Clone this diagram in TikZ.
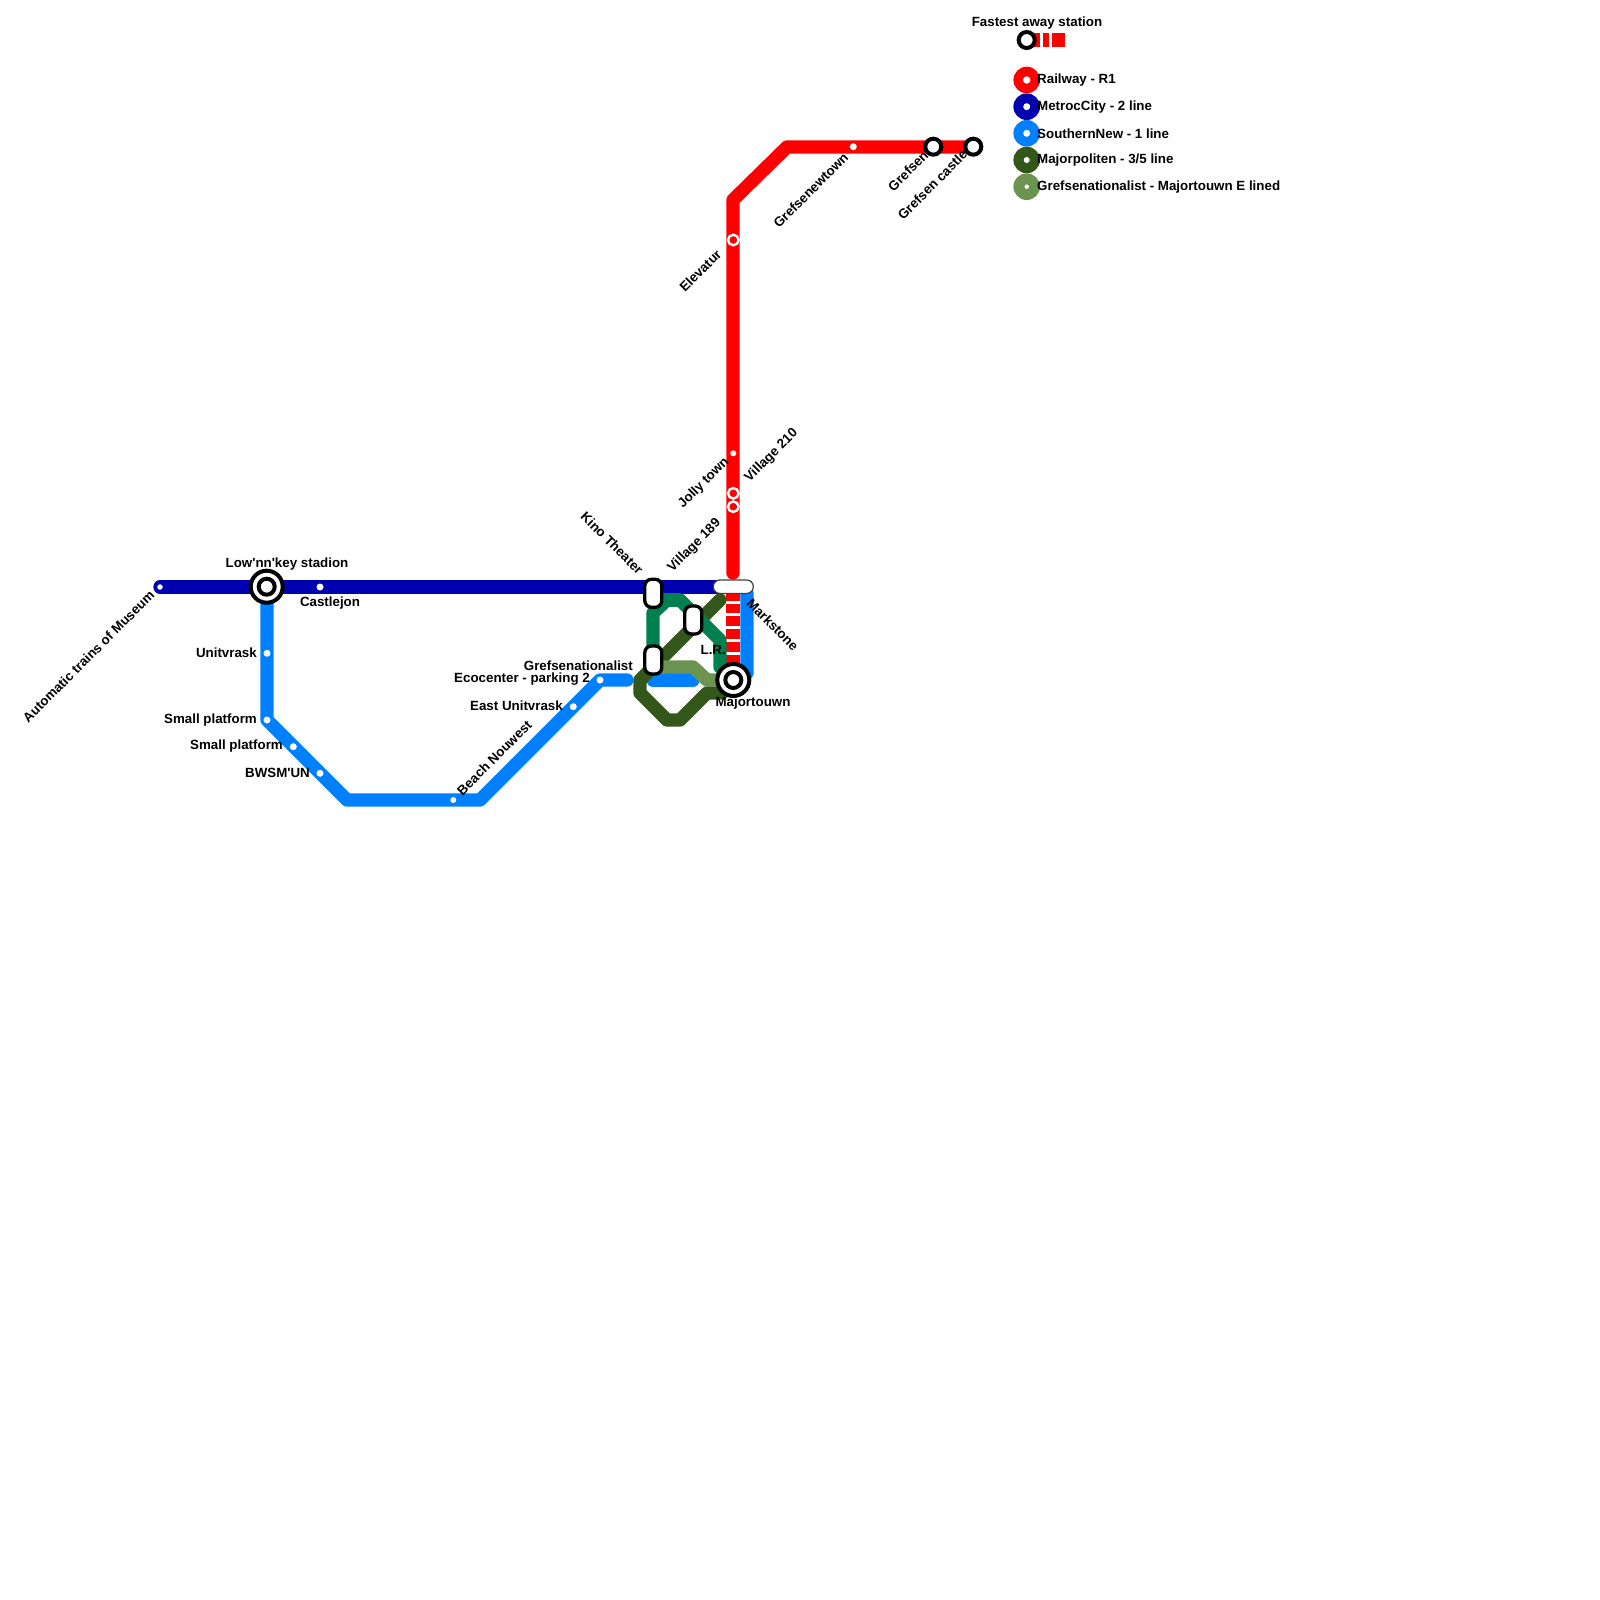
\documentclass[tikz,border=0pt]{standalone}
\usepackage{fontspec}
\newfontfamily\lblfont{Liberation Sans}
\definecolor{cRed}{HTML}{FF0000}
\definecolor{cNavy}{HTML}{0000B0}
\definecolor{cBlue}{HTML}{007FFF}
\definecolor{cDark}{HTML}{33571A}
\definecolor{cTeal}{HTML}{008050}
\definecolor{cLight}{HTML}{6A944F}
\newcommand{\majorlabel}{Majorpoliten - 3/5 line}
\tikzset{
 rail/.style={line width=13.33pt,line cap=round,line join=round},
 lbl/.style={font=\lblfont\bfseries\fontsize{13.33}{15}\selectfont,inner sep=0pt,text=black},
 dot/.style={circle,fill=white,inner sep=0pt,minimum size=7pt},
 ringw/.style={circle,draw=white,line width=2.4pt,fill=cRed,inner sep=0pt,minimum size=10.5pt},
 small/.style={circle,draw=black,line width=4pt,fill=white,inner sep=0pt,minimum size=16pt},
 big/.style={circle,draw=black,line width=4pt,fill=white,inner sep=0pt,minimum size=32pt},
 core/.style={circle,draw=black,line width=4pt,fill=white,inner sep=0pt,minimum size=16pt},
 capv/.style={rounded corners=6.6pt,draw=black,line width=3.3pt,fill=white,inner sep=0pt,minimum width=17pt,minimum height=28pt},
 caph/.style={rounded corners=6.6pt,draw=black!75,line width=1.2pt,fill=white,inner sep=0pt,minimum width=40pt,minimum height=13.5pt},
 leg/.style={circle,inner sep=0pt,minimum size=26.6pt},
 sq/.style={fill=cRed,inner sep=0pt,minimum height=13.33pt},
 tick/.style={draw=white,line width=3pt}
}
\begin{document}
\begin{tikzpicture}[x=1pt,y=-1pt]
\useasboundingbox (0,0) rectangle (1600,1600);
% vertices
\coordinate (n0) at (160,587); \coordinate (n1) at (720,587);
\coordinate (b0) at (267,587); \coordinate (b1) at (267,720); \coordinate (b2) at (347,800);
\coordinate (b3) at (480,800); \coordinate (b4) at (600,680); \coordinate (b5) at (627,680);
\coordinate (b6) at (653,680); \coordinate (b7) at (693,680);
\coordinate (c0) at (747,593); \coordinate (c1) at (747,673); \coordinate (c2) at (740,680); \coordinate (c3) at (733,680);
\coordinate (r0) at (973,147); \coordinate (r1) at (787,147); \coordinate (r2) at (733,200); \coordinate (r3) at (733,573);
\coordinate (r4) at (733,590); \coordinate (r5) at (733,680);
\coordinate (d0) at (720,600); \coordinate (d1) at (640,680); \coordinate (d2) at (640,693); \coordinate (d3) at (667,720);
\coordinate (d4) at (680,720); \coordinate (d5) at (707,693); \coordinate (d6) at (722,693);
\coordinate (t0) at (653,660); \coordinate (t1) at (653,613); \coordinate (t2) at (667,600); \coordinate (t3) at (680,600);
\coordinate (t4) at (720,640); \coordinate (t5) at (720,667); \coordinate (t6) at (733,680); \coordinate (t7) at (653,600);
\coordinate (l0) at (660,667); \coordinate (l1) at (693,667); \coordinate (l2) at (707,680); \coordinate (l3) at (733,680);
% lines
\draw[rail,cNavy] (n0)--(n1);
\draw[rail,cBlue] (b0)--(b1)--(b2)--(b3)--(b4)--(b5);
\draw[rail,cBlue] (b6)--(b7);
\draw[rail,cBlue] (c0)--(c1)--(c2)--(c3);
\draw[rail,cRed] (r0)--(r1)--(r2)--(r3);
\draw[rail,cRed,line cap=butt] (r4)--(r5);
\foreach \y/\k in {602/a,614/b,627/c,640/d,653/e,665/f}{
 \coordinate (tk\k L) at (726.3,\y); \coordinate (tk\k R) at (739.7,\y);
 \draw[tick] (tk\k L)--(tk\k R);
}
\draw[rail,cDark] (d0)--(d1)--(d2)--(d3)--(d4)--(d5)--(d6);
\draw[rail,cTeal] (t0)--(t1)--(t2)--(t3)--(t4)--(t5)--(t6);
\draw[rail,cTeal,line cap=butt] (t7)--(t3);
\draw[rail,cLight] (l0)--(l1)--(l2)--(l3);
% small stations
\node[dot,minimum size=5.5pt] (sAuto) at (160,587) {};
\node[dot] (sCast) at (320,587) {};
\node[dot] (sUnit) at (267,653.3) {};
\node[dot] (sSm1) at (267,720) {};
\node[dot] (sSm2) at (293.3,746.7) {};
\node[dot] (sBw) at (320,773.3) {};
\node[dot,minimum size=6pt] (sBeach) at (453.3,800) {};
\node[dot] (sEast) at (573.3,706.7) {};
\node[dot] (sEco) at (600,680) {};
\node[dot,minimum size=6pt] (sJolly) at (733.3,453.3) {};
\node[ringw] (sElev) at (733.3,240) {};
\node[ringw] (sV1) at (733.3,493.3) {};
\node[ringw] (sV2) at (733.3,506.7) {};
\node[dot] (sGn) at (853.3,146.7) {};
\node[small] (sGr) at (933.3,146.7) {};
\node[small] (sGc) at (973.3,146.7) {};
% interchanges
\node[big] (sLow) at (266.7,586.7) {};
\node[core] (sLowC) at (266.7,586.7) {};
\node[big] (sMaj) at (733.3,680) {};
\node[core] (sMajC) at (733.3,680) {};
\node[capv] (xKino) at (653.3,593.3) {};
\node[capv] (xV) at (693.3,620) {};
\node[capv] (xGref) at (653.3,660) {};
\node[caph] (xMark) at (733.3,586.7) {};
% labels
\node[lbl,anchor=east,rotate=45] (tAuto) at (152,593) {Automatic trains of Museum};
\node[lbl] (tLow) at (287,563.6) {Low'nn'key stadion};
\node[lbl] (tCast) at (330,603) {Castlejon};
\node[lbl,anchor=east] (tUnit) at (257,653) {Unitvrask};
\node[lbl,anchor=east] (tSm1) at (257,720) {Small platform};
\node[lbl,anchor=east] (tSm2) at (283,746.5) {Small platform};
\node[lbl,anchor=east] (tBw) at (310,773) {BWSM'UN};
\node[lbl,anchor=west,rotate=45] (tBeach) at (459,793) {Beach Nouwest};
\node[lbl,anchor=east] (tEast) at (563,706) {East Unitvrask};
\node[lbl,anchor=east] (tEco) at (590,679.5) {Ecocenter - parking 2};
\node[lbl,anchor=east] (tGref) at (633,666) {Grefsenationalist};
\node[lbl,anchor=east,rotate=-45] (tKino) at (641,572) {Kino Theater};
\node[lbl,anchor=west,rotate=45] (tV189) at (670,570) {Village 189};
\node[lbl,anchor=east,rotate=45] (tJolly) at (727,460) {Jolly town};
\node[lbl,anchor=west,rotate=45] (tV210) at (747,480) {Village 210};
\node[lbl,anchor=east,rotate=45] (tElev) at (719,252) {Elevatur};
\node[lbl,anchor=east,rotate=45] (tGn) at (846,155) {Grefsenewtown};
\node[lbl,anchor=east,rotate=45] (tGr) at (926,153) {Grefsen};
\node[lbl,anchor=east,rotate=45] (tGc) at (965,152) {Grefsen castle};
\node[lbl,anchor=west,rotate=-45] (tMark) at (749,601) {Markstone};
\node[lbl,anchor=east] (tLR) at (726,650) {L.R.};
\node[lbl] (tMaj) at (753,703) {Majortouwn};
% legend
\node[lbl] (tFast) at (1037,23) {Fastest away station};
\node[sq,minimum width=8pt] (q1) at (1036,40) {};
\node[sq,minimum width=6.5pt] (q2) at (1046,40) {};
\node[sq,minimum width=13pt] (q3) at (1058.5,40) {};
\node[small] (qS) at (1026.7,40) {};
\foreach \y/\c/\s/\n/\t in {80/cRed/7.5/A/Railway - R1,106.7/cNavy/7/B/MetrocCity - 2 line,133.3/cBlue/7/C/SouthernNew - 1 line,160/cDark/6/D/\majorlabel,186.7/cLight/4.5/E/Grefsenationalist - Majortouwn E lined}{
 \node[leg,fill=\c] (leg\n) at (1026.7,\y) {};
 \node[dot,minimum size=\s pt] (legd\n) at (1026.7,\y) {};
 \node[lbl,anchor=west] (legt\n) at (1037,\y+0.2) {\t};
}
\end{tikzpicture}
\end{document}
